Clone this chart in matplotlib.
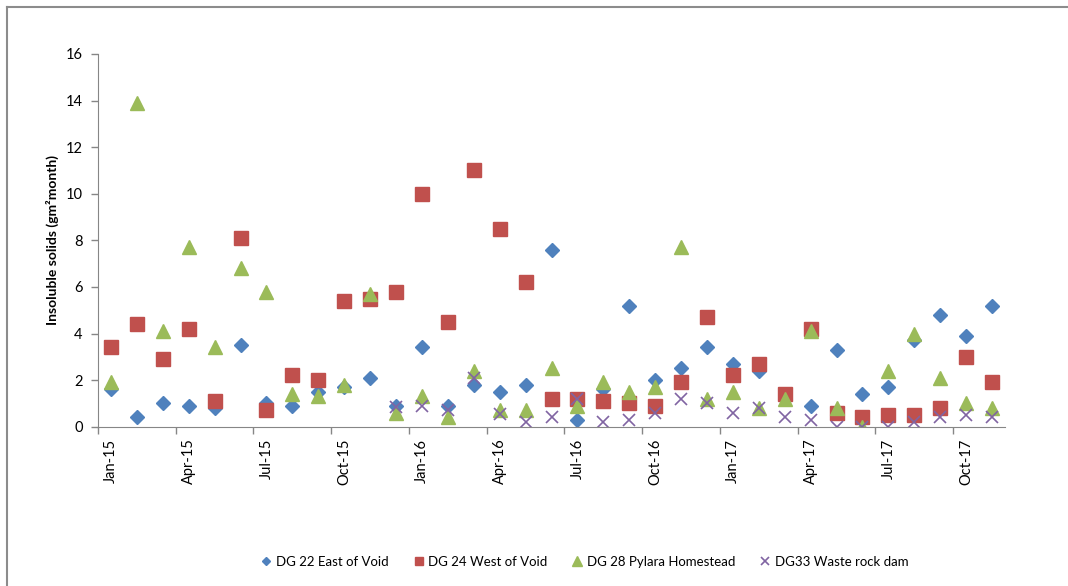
import numpy as np
import matplotlib.pyplot as plt
from matplotlib.lines import Line2D

plt.rcParams['font.family'] = ['Lato', 'DejaVu Sans']

# months Jan-15 .. Nov-17
months = ['Jan-15', 'Feb-15', 'Mar-15', 'Apr-15', 'May-15', 'Jun-15', 'Jul-15', 'Aug-15',
          'Sep-15', 'Oct-15', 'Nov-15', 'Dec-15', 'Jan-16', 'Feb-16', 'Mar-16', 'Apr-16',
          'May-16', 'Jun-16', 'Jul-16', 'Aug-16', 'Sep-16', 'Oct-16', 'Nov-16', 'Dec-16',
          'Jan-17', 'Feb-17', 'Mar-17', 'Apr-17', 'May-17', 'Jun-17', 'Jul-17', 'Aug-17',
          'Sep-17', 'Oct-17', 'Nov-17']

dg22 = [1.6, 0.4, 1.0, 0.9, 0.8, 3.5, 1.0, 0.9, 1.5, 1.7, 2.1, 0.9,
        3.4, 0.9, 1.8, 1.5, 1.8, 7.6, 0.3, 1.6, 5.2, 2.0, 2.5, 3.4,
        2.7, 2.4, 1.3, 0.9, 3.3, 1.4, 1.7, 3.7, 4.8, 3.9, 5.2]
dg24 = [3.4, 4.4, 2.9, 4.2, 1.1, 8.1, 0.7, 2.2, 2.0, 5.4, 5.5, 5.8,
        10.0, 4.5, 11.0, 8.5, 6.2, 1.2, 1.2, 1.1, 1.0, 0.9, 1.9, 4.7,
        2.2, 2.7, 1.4, 4.2, 0.6, 0.4, 0.5, 0.5, 0.8, 3.0, 1.9]
dg28 = [1.9, 13.9, 4.1, 7.7, 3.4, 6.8, 5.8, 1.4, 1.3, 1.8, 5.7, 0.6,
        1.3, 0.4, 2.4, 0.7, 0.7, 2.5, 0.9, 1.9, 1.5, 1.7, 7.7, 1.2,
        1.5, 0.8, 1.2, 4.1, 0.8, 0.0, 2.4, 4.0, 2.1, 1.0, 0.8]
# waste rock dam starts Dec-15
dg33 = [None] * 11 + [0.85, 0.9, 0.7, 2.1, 0.55, 0.2, 0.4, 1.2, 0.2, 0.3, 0.6,
                      1.2, 1.0, 0.6, 0.8, 0.4, 0.3, 0.0, 0.0, 0.0, 0.2, 0.4, 0.5, 0.4]

x = np.arange(len(months)) + 0.5
dg33 = np.array([np.nan if v is None else v for v in dg33])

fig = plt.figure(figsize=(10.68, 5.86), dpi=100)
ax = fig.add_axes([98 / 1068, 1 - 426.7 / 586, 907 / 1068, 372.8 / 586])

ax.plot(x, dg22, 'D', ms=6.8, color='#4F81BD', label='DG 22 East of Void', ls='none')
ax.plot(x, dg24, 's', ms=9.4, color='#C0504D', label='DG 24 West of Void', ls='none')
ax.plot(x, dg28, '^', ms=10, color='#9BBB59', label='DG 28 Pylara Homestead', ls='none')
ax.plot(x, dg33, 'x', ms=9, mew=1.2, color='#8064A2', label='DG33 Waste rock dam', ls='none')

ax.set_xlim(0, len(months))
ax.set_ylim(0, 16)
ax.set_yticks(np.arange(0, 17, 2))
# tick marks every 3 months, labels sit mid-month
ax.set_xticks(np.arange(0, len(months), 3))
ax.set_xticklabels([])
ax.set_xticks(x[::3], minor=True)
ax.set_xticklabels(months[::3], minor=True, rotation=90)
ax.tick_params(axis='x', which='minor', length=0, pad=8.5)

for s in ['top', 'right']:
    ax.spines[s].set_visible(False)
for s in ['left', 'bottom']:
    ax.spines[s].set_color('#868686')
ax.tick_params(which='both', colors='#868686', labelcolor='black', labelsize=10.5)
ax.tick_params(which='major', length=5, width=1)
ax.tick_params(axis='y', pad=6)
ax.set_ylabel('Insoluble solids (gm²month)', fontsize=10, fontweight='bold', labelpad=5)

fig.legend(loc='center', bbox_to_anchor=(584 / 1068, 1 - 562 / 586), ncol=4, frameon=False,
           fontsize=9.5, handlelength=1.0, handletextpad=0.2, columnspacing=1.8,
           markerscale=0.65)

# chart border (top and left only visible)
fig.add_artist(Line2D([6.5 / 1068, 1], [1 - 6.5 / 586] * 2, transform=fig.transFigure,
                      color='#8c8c8c', lw=1.5))
fig.add_artist(Line2D([6.5 / 1068] * 2, [0, 1 - 6.5 / 586], transform=fig.transFigure,
                      color='#8c8c8c', lw=1.5))

fig.savefig('out.png', dpi=100)
